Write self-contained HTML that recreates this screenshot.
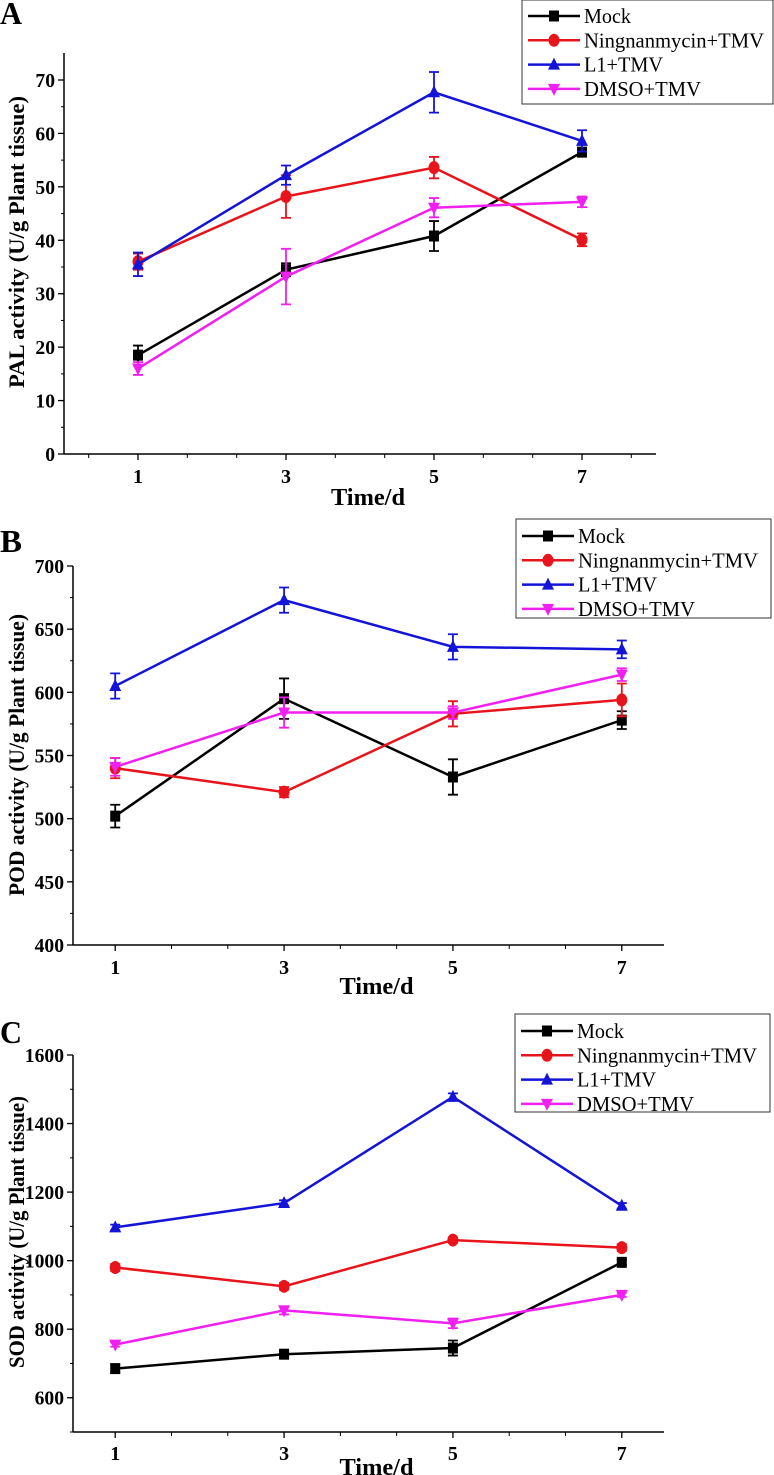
<!DOCTYPE html>
<html><head><meta charset="utf-8"><style>
html,body{margin:0;padding:0;background:#fff;}
svg{display:block;font-family:"Liberation Serif",serif;}
</style></head><body>
<svg id="chart" width="774" height="1475" viewBox="0 0 774 1475"></svg>
<script>
const days = [1,3,5,7];
const seriesNames = ["Mock","Ningnanmycin+TMV","L1+TMV","DMSO+TMV"];
const colors = ["#000000","#e8141b","#1414d8","#f020f0"];
const markers = ["square","circle","up","down"];
// Panel A PAL
const palMock=[18.5,34.5,40.8,56.5], palMockErr=[1.8,1.2,2.8,0.5];
const palNing=[36,48.2,53.6,40.1], palNingErr=[1.5,4,2,1.2];
const palL1=[35.5,52.2,67.7,58.6], palL1Err=[2.2,1.8,3.8,2];
const palDmso=[16,33.2,46.1,47.2], palDmsoErr=[1.2,5.2,1.8,1];
const palTicks=[0,10,20,30,40,50,60,70];
// Panel B POD
const podMock=[502,595,533,578], podMockErr=[9,16,14,7];
const podNing=[540,521,583,594], podNingErr=[8,4,10,13];
const podL1=[605,673,636,634], podL1Err=[10,10,10,7];
const podDmso=[541,584,584,614], podDmsoErr=[7,12,5,5];
const podTicks=[400,450,500,550,600,650,700];
// Panel C SOD
const sodMock=[685,727,745,995], sodMockErr=[12,8,22,8];
const sodNing=[980,925,1060,1038], sodNingErr=[10,10,8,10];
const sodL1=[1097,1168,1478,1160], sodL1Err=[8,8,10,8];
const sodDmso=[755,855,817,900], sodDmsoErr=[6,12,14,6];
const sodTicks=[600,800,1000,1200,1400,1600];
const xTickLabels=["1","3","5","7"];

const svg=document.getElementById('chart');
const NS="http://www.w3.org/2000/svg";
function mk(tag,attrs,parent){const e=document.createElementNS(NS,tag);for(const k in attrs)e.setAttribute(k,attrs[k]);(parent||svg).appendChild(e);return e;}

function marker(g,type,x,y,c){
  let e;
  if(type==="square"){e=mk('rect',{x:x-5,y:y-5.5,width:10,height:11,fill:c},g);}
  else if(type==="circle"){e=mk('ellipse',{cx:x,cy:y,rx:5.5,ry:6.5,fill:c},g);}
  else if(type==="up"){e=mk('polygon',{points:`${x},${y-7} ${x-6},${y+5} ${x+6},${y+5}`,fill:c},g);}
  else {e=mk('polygon',{points:`${x},${y+7} ${x-6},${y-5} ${x+6},${y-5}`,fill:c},g);}
  
  
}

function panel(p){
  const g=mk('g',{});
  
  
  const X=v=>p.x0+(v-p.xmin)/(p.xmax-p.xmin)*(p.x1-p.x0);
  const Y=v=>p.yb-(v-p.ymin)/(p.ymax-p.ymin)*(p.yb-p.yt);
  const letter=mk('text',{x:0,y:p.ly,'font-size':32,'font-weight':'bold',textLength:22,lengthAdjust:'spacingAndGlyphs'},g);letter.textContent=p.letter;
  
  const ya=mk('line',{x1:p.x0,y1:p.axTop,x2:p.x0,y2:p.yb,stroke:'#000','stroke-width':1.5},g);
  
  const xa=mk('line',{x1:p.x0,y1:p.yb,x2:p.x1,y2:p.yb,stroke:'#000','stroke-width':1.5},g);
  
  p.yticks.forEach(v=>{
    mk('line',{x1:p.x0-6,y1:Y(v),x2:p.x0,y2:Y(v),stroke:'#000','stroke-width':1.3},g);
    const s=String(v);
    const t=mk('text',{x:p.x0-9,y:Y(v)+7,'text-anchor':'end','font-size':20,'font-weight':'bold',textLength:s.length*9.8,lengthAdjust:'spacingAndGlyphs'},g);t.textContent=s;
    
  });
  for(let v=p.ymin;v<=p.ymax+1e-9;v+=p.yminor){const yy=Y(v);if(yy<p.axTop-1)continue;mk('line',{x1:p.x0-3,y1:yy,x2:p.x0,y2:yy,stroke:'#000','stroke-width':1},g);}
  days.forEach((d,i)=>{
    mk('line',{x1:X(d),y1:p.yb,x2:X(d),y2:p.yb+6,stroke:'#000','stroke-width':1.3},g);
    const t=mk('text',{x:X(d),y:p.xly,'text-anchor':'middle','font-size':20,'font-weight':'bold',textLength:10,lengthAdjust:'spacingAndGlyphs'},g);t.textContent=xTickLabels[i];
    
  });
  for(let k=-3;k<=12;k++){const v=1+k*2/3;if(k%3===0)continue;if(v<=p.xmin||v>=p.xmax)continue;mk('line',{x1:X(v),y1:p.yb,x2:X(v),y2:p.yb+4,stroke:'#000','stroke-width':1},g);}
  const xt=mk('text',{x:(p.x0+p.x1)/2+8,y:p.xty,'text-anchor':'middle','font-size':24,'font-weight':'bold',textLength:74,lengthAdjust:'spacingAndGlyphs'},g);xt.textContent='Time/d';
  
  const yt=mk('text',{x:0,y:0,transform:`translate(${p.ytx},${p.yty}) rotate(-90)`,'text-anchor':'middle','font-size':22,'font-weight':'bold',textLength:p.ytl,lengthAdjust:'spacingAndGlyphs'},g);yt.textContent=p.ytitle;
  
  p.series.forEach((s,si)=>{
    const sg=mk('g',{},g);
    
    
    const c=colors[si];
    mk('polyline',{points:s.v.map((v,i)=>X(days[i])+','+Y(v)).join(' '),fill:'none',stroke:c,'stroke-width':2.5},sg);
    s.v.forEach((v,i)=>{
      const x=X(days[i]),e=s.e[i];
      mk('path',{d:`M${x},${Y(v-e)}V${Y(v+e)}M${x-5},${Y(v+e)}H${x+5}M${x-5},${Y(v-e)}H${x+5}`,stroke:c,'stroke-width':1.8,fill:'none'},sg);
      marker(sg,markers[si],x,Y(v),c);
    });
  });
  const lg=mk('g',{},g);
  
  mk('rect',{x:p.lgx,y:p.lgy,width:p.lgw,height:p.lgh,fill:'#fff',stroke:'#333','stroke-width':1},lg);
  const lens=[47,180,79,117];
  seriesNames.forEach((n,i)=>{
    const yy=p.lgy+p.lgFirst+i*24.3;
    mk('line',{x1:p.lgx+6,y1:yy,x2:p.lgx+58,y2:yy,stroke:colors[i],'stroke-width':2.5},lg);
    marker(lg,markers[i],p.lgx+32,yy,colors[i]);
    const t=mk('text',{x:p.lgx+62,y:yy+7,'font-size':21,textLength:lens[i],lengthAdjust:'spacingAndGlyphs'},lg);t.textContent=n;
    
  });
}

panel({name:'panel-a-pal',letter:'A',ly:24,x0:64,x1:656,xmin:0,xmax:8,yb:454,yt:80,ymin:0,ymax:70,axTop:53,
 yticks:palTicks,yminor:5,xly:483,xty:505,ytitle:'PAL activity (U/g Plant tissue)',ytx:24,ytl:292,yty:242,
 series:[{v:palMock,e:palMockErr},{v:palNing,e:palNingErr},{v:palL1,e:palL1Err},{v:palDmso,e:palDmsoErr}],
 lgx:522,lgy:0,lgw:251,lgh:104,lgFirst:16});
panel({name:'panel-b-pod',letter:'B',ly:552,x0:73,x1:664,xmin:0.5,xmax:7.5,yb:945,yt:566,ymin:400,ymax:700,axTop:566,
 yticks:podTicks,yminor:25,xly:974,xty:994,ytitle:'POD activity (U/g Plant tissue)',ytx:24,ytl:282,yty:755,
 series:[{v:podMock,e:podMockErr},{v:podNing,e:podNingErr},{v:podL1,e:podL1Err},{v:podDmso,e:podDmsoErr}],
 lgx:516,lgy:519,lgw:255,lgh:99,lgFirst:17});
panel({name:'panel-c-sod',letter:'C',ly:1043,x0:73,x1:664,xmin:0.5,xmax:7.5,yb:1432,yt:1055,ymin:500,ymax:1600,axTop:1055,
 yticks:sodTicks,yminor:100,xly:1460,xty:1475,ytitle:'SOD activity (U/g Plant tissue)',ytx:24,ytl:272,yty:1232,
 series:[{v:sodMock,e:sodMockErr},{v:sodNing,e:sodNingErr},{v:sodL1,e:sodL1Err},{v:sodDmso,e:sodDmsoErr}],
 lgx:515,lgy:1014,lgw:255,lgh:98,lgFirst:17});
</script>
</body></html>
